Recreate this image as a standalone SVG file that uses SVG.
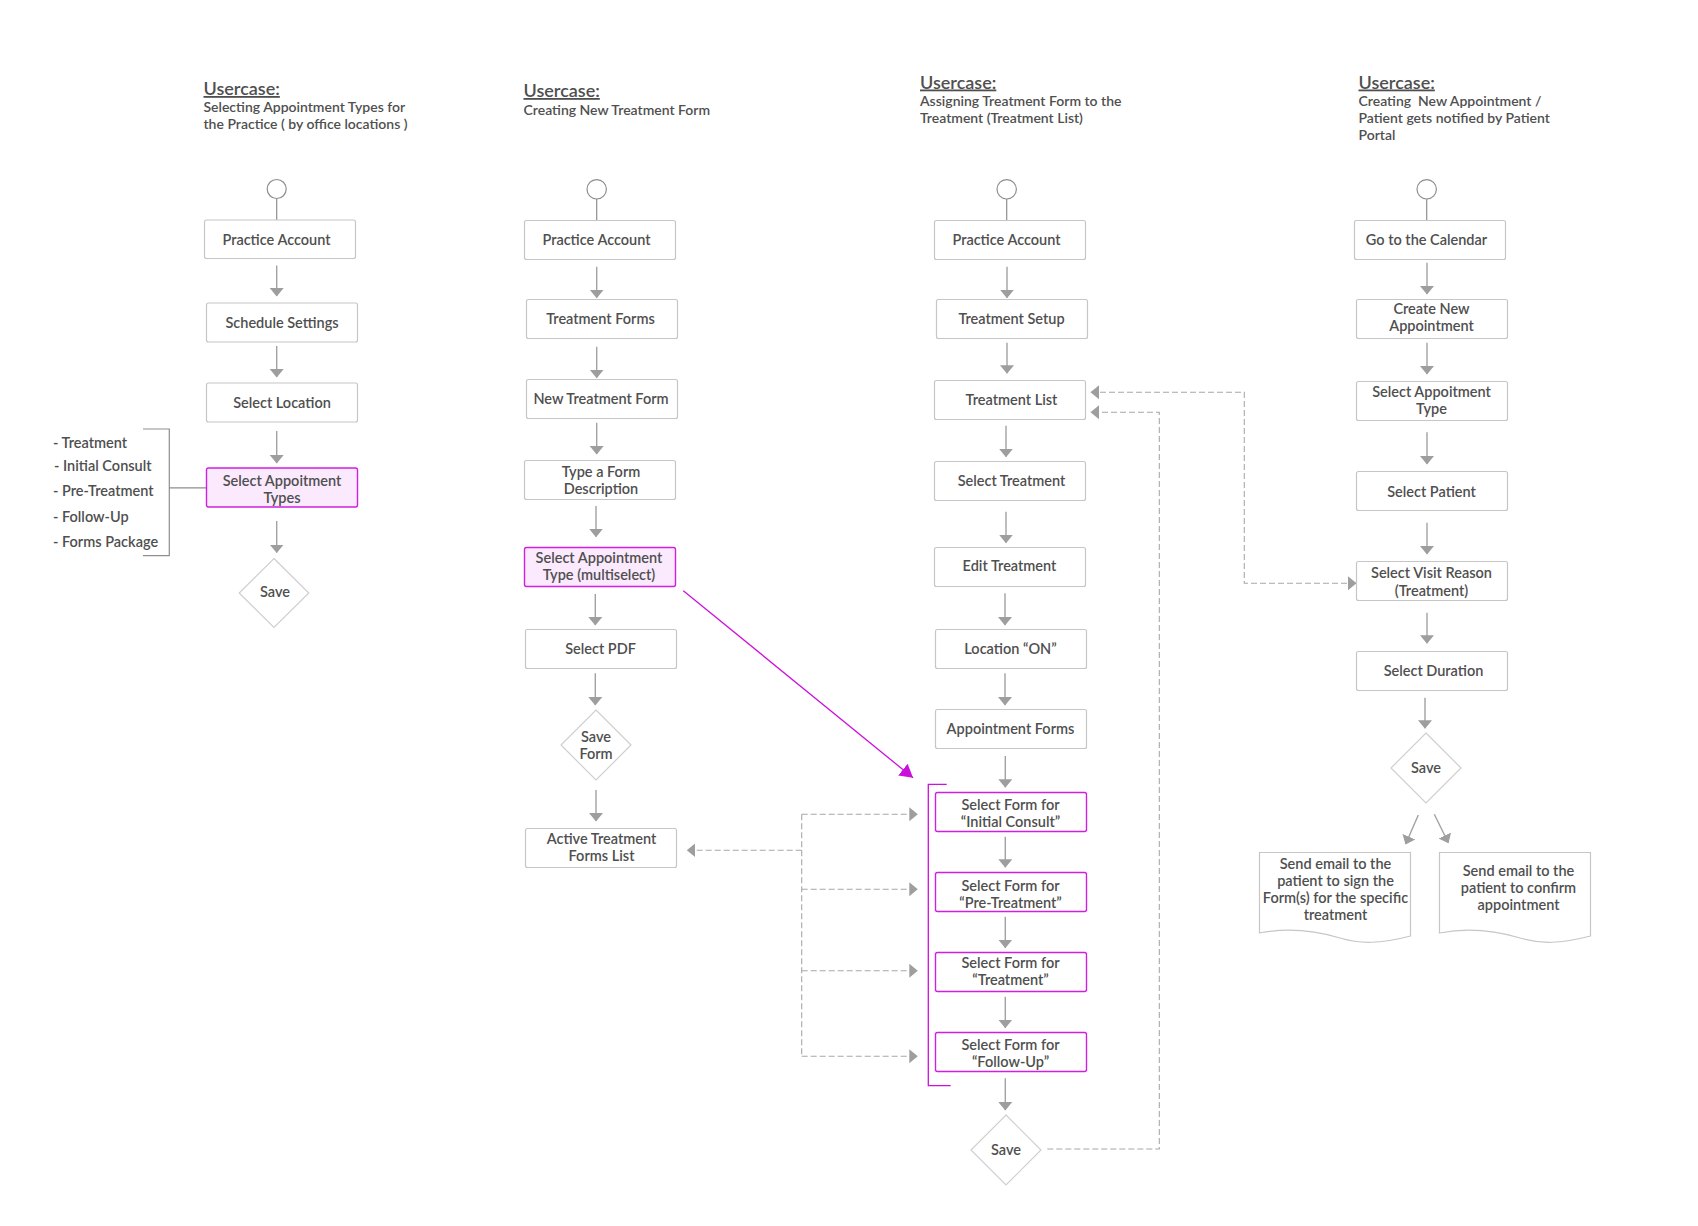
<svg xmlns="http://www.w3.org/2000/svg" width="1698" height="1226" viewBox="0 0 1698 1226">
<style>
text{font-family:Lato,"Liberation Sans",sans-serif;fill:#4f4f4f;font-size:14.5px;font-weight:600}
.t{text-anchor:middle}
.ttl{font-size:18px;text-decoration:underline}
.sub{font-size:14px}
.box{fill:#fff;stroke:#c6c6c6;stroke-width:1.2}
.pink{fill:#fbe9fd;stroke:#cf1fe0;stroke-width:1.4}
.mbox{fill:#fff;stroke:#cf1fe0;stroke-width:1.4}
.dia{fill:#fff;stroke:#cfcfcf;stroke-width:1.2}
.arr{stroke:#a2a2a2;stroke-width:1.4;fill:none;marker-end:url(#ah)}
.dash{stroke:#a8a8a8;stroke-width:1.1;fill:none;stroke-dasharray:6 3}
.start{fill:#fff;stroke:#8e8e8e;stroke-width:1.2}
.ln{stroke:#8e8e8e;stroke-width:1.2;fill:none}
</style>
<defs>
<marker id="ah" viewBox="0 -8 10 16" refX="8" refY="0" markerWidth="10" markerHeight="16" orient="auto-start-reverse" markerUnits="userSpaceOnUse"><path d="M0,-7 L8.5,0 L0,7 z" fill="#9e9e9e"/></marker>
<marker id="mh" viewBox="0 -9 14 18" refX="13" refY="0" markerWidth="14" markerHeight="18" orient="auto" markerUnits="userSpaceOnUse"><path d="M0,-7.5 L13,0 L0,7.5 z" fill="#cc10dc"/></marker>
</defs>
<rect width="1698" height="1226" fill="#fff"/>

<!-- Titles -->
<g id="title1"><text x="203.5" y="95" class="ttl">Usercase:</text><text x="203.5" y="112" class="sub">Selecting Appointment Types for</text><text x="203.5" y="129" class="sub">the Practice ( by office locations )</text></g>
<g id="title2"><text x="523.5" y="97" class="ttl">Usercase:</text><text x="523.5" y="115" class="sub">Creating New Treatment Form</text></g>
<g id="title3"><text x="920" y="88.5" class="ttl">Usercase:</text><text x="920" y="106" class="sub">Assigning Treatment Form to the</text><text x="920" y="123" class="sub">Treatment (Treatment List)</text></g>
<g id="title4"><text x="1358.5" y="88.5" class="ttl">Usercase:</text><text x="1358.5" y="106" class="sub" xml:space="preserve">Creating  New Appointment /</text><text x="1358.5" y="123" class="sub">Patient gets notified by Patient</text><text x="1358.5" y="140" class="sub">Portal</text></g>

<!-- Connectors -->
<g id="connectors">
<path class="ln" d="M276.7 198.5V220M596.7 199V220.5M1006.7 199V220.5M1426.7 199V220.5"/>
<path class="arr" d="M276.7 265.6V296"/>
<path class="arr" d="M276.7 346V377"/>
<path class="arr" d="M276.7 431V463"/>
<path class="arr" d="M276.7 521V552.6"/>
<path class="ln" d="M143 429H169.3V555.6H143M169.3 487.8H206.5"/>

<path class="arr" d="M596.7 266.7V297.7"/>
<path class="arr" d="M596.7 346.7V377.7"/>
<path class="arr" d="M596.7 422.7V454"/>
<path class="arr" d="M596 506V536.7"/>
<path class="arr" d="M595.3 594V625"/>
<path class="arr" d="M595.3 673.3V705"/>
<path class="arr" d="M596 790V821"/>

<path class="arr" d="M1007 266.7V297.7"/>
<path class="arr" d="M1007 342.7V373.3"/>
<path class="arr" d="M1006 425.7V456.7"/>
<path class="arr" d="M1006 511.7V542.7"/>
<path class="arr" d="M1005 593.3V625"/>
<path class="arr" d="M1005 673.3V705"/>
<path class="arr" d="M1005.3 756V787.3"/>
<path class="arr" d="M1005.3 836.7V867.3"/>
<path class="arr" d="M1005.3 916.7V947.7"/>
<path class="arr" d="M1005.3 996.7V1027.7"/>
<path class="arr" d="M1005.3 1078.3V1110"/>

<path class="arr" d="M1427 262.7V294"/>
<path class="arr" d="M1427 342.7V374"/>
<path class="arr" d="M1427 432.3V464"/>
<path class="arr" d="M1427 522.7V554"/>
<path class="arr" d="M1427 612.7V643.3"/>
<path class="arr" d="M1425 697.7V728.3"/>
<path class="arr" d="M1418.3 815L1405.7 844"/>
<path class="arr" d="M1434.3 814.3L1448.3 842.7"/>

<path class="dash" d="M1091 392.3H1244.3V583.3H1356" marker-start="url(#ah)" marker-end="url(#ah)"/>
<path class="dash" d="M1047.3 1149H1159.3V412.3H1091" marker-end="url(#ah)"/>
<path class="dash" d="M801.7 850.3H687.3" marker-end="url(#ah)"/>
<path class="dash" d="M801.7 814.3V1056.3"/>
<path class="dash" d="M801.7 814.3H917.3" marker-end="url(#ah)"/>
<path class="dash" d="M801.7 889.3H917.3" marker-end="url(#ah)"/>
<path class="dash" d="M801.7 970.7H917.3" marker-end="url(#ah)"/>
<path class="dash" d="M801.7 1056.3H917.3" marker-end="url(#ah)"/>

<path d="M683.3 590.7L913 777.8" stroke="#cc10dc" stroke-width="1.3" fill="none" marker-end="url(#mh)"/>
<path d="M946.7 784.3H928.3V1085.7H950.7" stroke="#cc10dc" stroke-width="1.3" fill="none"/>
</g>

<!-- Column 1 -->
<g id="c1-start"><circle cx="276.7" cy="189" r="9.5" class="start"/></g>
<g id="c1-n1"><rect x="204.5" y="220" width="151" height="38.5" rx="2" class="box"/><text x="276.5" y="244.5" class="t">Practice Account</text></g>
<g id="c1-n2"><rect x="206.5" y="303" width="151" height="39" rx="2" class="box"/><text x="282" y="327.5" class="t">Schedule Settings</text></g>
<g id="c1-n3"><rect x="206.5" y="383" width="151" height="39" rx="2" class="box"/><text x="282" y="407.5" class="t">Select Location</text></g>
<g id="c1-n4"><rect x="206.5" y="468" width="151" height="39" rx="2" class="pink"/><text x="282" y="486" class="t">Select Appoitment</text><text x="282" y="503" class="t">Types</text></g>
<g id="c1-save"><path d="M274 558.5L308.8 593L274 627.5L239.2 593Z" class="dia"/><text x="275" y="597" class="t">Save</text></g>
<g id="c1-list"><text x="53" y="448">- Treatment</text><text x="54" y="471">- Initial Consult</text><text x="53" y="496">- Pre-Treatment</text><text x="53" y="522">- Follow-Up</text><text x="53" y="547">- Forms Package</text></g>

<!-- Column 2 -->
<g id="c2-start"><circle cx="596.7" cy="189.3" r="9.7" class="start"/></g>
<g id="c2-n1"><rect x="524.5" y="220.5" width="151" height="39" rx="2" class="box"/><text x="596.5" y="245" class="t">Practice Account</text></g>
<g id="c2-n2"><rect x="526.5" y="299.5" width="151" height="39" rx="2" class="box"/><text x="600.5" y="324" class="t">Treatment Forms</text></g>
<g id="c2-n3"><rect x="526.5" y="379.5" width="151" height="39" rx="2" class="box"/><text x="601" y="404" class="t">New Treatment Form</text></g>
<g id="c2-n4"><rect x="524.5" y="460.5" width="151" height="39" rx="2" class="box"/><text x="601" y="476.5" class="t">Type a Form</text><text x="601" y="493.5" class="t">Description</text></g>
<g id="c2-n5"><rect x="524.5" y="547.5" width="151" height="39" rx="2" class="pink"/><text x="599" y="563" class="t">Select Appointment</text><text x="599" y="580" class="t">Type (multiselect)</text></g>
<g id="c2-n6"><rect x="525.5" y="629.5" width="151" height="39" rx="2" class="box"/><text x="600.5" y="654" class="t">Select PDF</text></g>
<g id="c2-save"><path d="M596 710L631 745L596 780L561 745Z" class="dia"/><text x="596" y="742" class="t">Save</text><text x="596" y="759" class="t">Form</text></g>
<g id="c2-n7"><rect x="525.5" y="828.5" width="151" height="39" rx="2" class="box"/><text x="601.5" y="844" class="t">Active Treatment</text><text x="601.5" y="861" class="t">Forms List</text></g>

<!-- Column 3 -->
<g id="c3-start"><circle cx="1006.7" cy="189.3" r="9.7" class="start"/></g>
<g id="c3-n1"><rect x="934.5" y="220.5" width="151" height="39" rx="2" class="box"/><text x="1006.5" y="245" class="t">Practice Account</text></g>
<g id="c3-n2"><rect x="936.5" y="299.5" width="151" height="39" rx="2" class="box"/><text x="1011.5" y="324" class="t">Treatment Setup</text></g>
<g id="c3-n3"><rect x="934.5" y="380.5" width="151" height="39" rx="2" class="box"/><text x="1011.5" y="405" class="t">Treatment List</text></g>
<g id="c3-n4"><rect x="934.5" y="461.5" width="151" height="39" rx="2" class="box"/><text x="1011.5" y="486" class="t">Select Treatment</text></g>
<g id="c3-n5"><rect x="934.5" y="547.5" width="151" height="39" rx="2" class="box"/><text x="1009.5" y="571" class="t">Edit Treatment</text></g>
<g id="c3-n6"><rect x="935.5" y="629.5" width="151" height="39" rx="2" class="box"/><text x="1010.5" y="654" class="t">Location “ON”</text></g>
<g id="c3-n7"><rect x="935.5" y="709.5" width="151" height="39" rx="2" class="box"/><text x="1010.5" y="734" class="t">Appointment Forms</text></g>
<g id="c3-n8"><rect x="935.5" y="792.5" width="151" height="39" rx="2" class="mbox"/><text x="1010.5" y="810" class="t">Select Form for</text><text x="1010.5" y="827" class="t">“Initial Consult”</text></g>
<g id="c3-n9"><rect x="935.5" y="872.5" width="151" height="39" rx="2" class="mbox"/><text x="1010.5" y="891" class="t">Select Form for</text><text x="1010.5" y="908" class="t">“Pre-Treatment”</text></g>
<g id="c3-n10"><rect x="935.5" y="952.5" width="151" height="39" rx="2" class="mbox"/><text x="1010.5" y="968" class="t">Select Form for</text><text x="1010.5" y="985" class="t">“Treatment”</text></g>
<g id="c3-n11"><rect x="935.5" y="1032.5" width="151" height="39" rx="2" class="mbox"/><text x="1010.5" y="1050" class="t">Select Form for</text><text x="1010.5" y="1067" class="t">“Follow-Up”</text></g>
<g id="c3-save"><path d="M1006 1115L1041 1150L1006 1185L971 1150Z" class="dia"/><text x="1006" y="1155" class="t">Save</text></g>

<!-- Column 4 -->
<g id="c4-start"><circle cx="1426.7" cy="189.3" r="9.7" class="start"/></g>
<g id="c4-n1"><rect x="1354.5" y="220.5" width="151" height="39" rx="2" class="box"/><text x="1426.5" y="245" class="t">Go to the Calendar</text></g>
<g id="c4-n2"><rect x="1356.5" y="299.5" width="151" height="39" rx="2" class="box"/><text x="1431.5" y="314" class="t">Create New</text><text x="1431.5" y="331" class="t">Appointment</text></g>
<g id="c4-n3"><rect x="1356.5" y="381.5" width="151" height="39" rx="2" class="box"/><text x="1431.5" y="397" class="t">Select Appoitment</text><text x="1431.5" y="414" class="t">Type</text></g>
<g id="c4-n4"><rect x="1356.5" y="471.5" width="151" height="39" rx="2" class="box"/><text x="1431.5" y="497" class="t">Select Patient</text></g>
<g id="c4-n5"><rect x="1356.5" y="561.5" width="151" height="39" rx="2" class="box"/><text x="1431.5" y="578" class="t">Select Visit Reason</text><text x="1431.5" y="595.5" class="t">(Treatment)</text></g>
<g id="c4-n6"><rect x="1356.5" y="651.5" width="151" height="39" rx="2" class="box"/><text x="1433.5" y="676" class="t">Select Duration</text></g>
<g id="c4-save"><path d="M1426 733L1461 768L1426 803L1391 768Z" class="dia"/><text x="1426" y="772.5" class="t">Save</text></g>
<g id="c4-doc1"><path d="M1259.5 852.5H1410.5V936C1380 944 1360 944 1340 938C1310 929 1285 928 1259.5 933Z" class="box"/><text x="1335.5" y="869" class="t">Send email to the</text><text x="1335.5" y="886" class="t">patient to sign the</text><text x="1335.5" y="903" class="t">Form(s) for the specific</text><text x="1335.5" y="920" class="t">treatment</text></g>
<g id="c4-doc2"><path d="M1439.5 852.5H1590.5V936C1560 944 1540 944 1520 938C1490 929 1465 928 1439.5 933Z" class="box"/><text x="1518.5" y="876" class="t">Send email to the</text><text x="1518.5" y="893" class="t">patient to confirm</text><text x="1518.5" y="910" class="t">appointment</text></g>
</svg>
